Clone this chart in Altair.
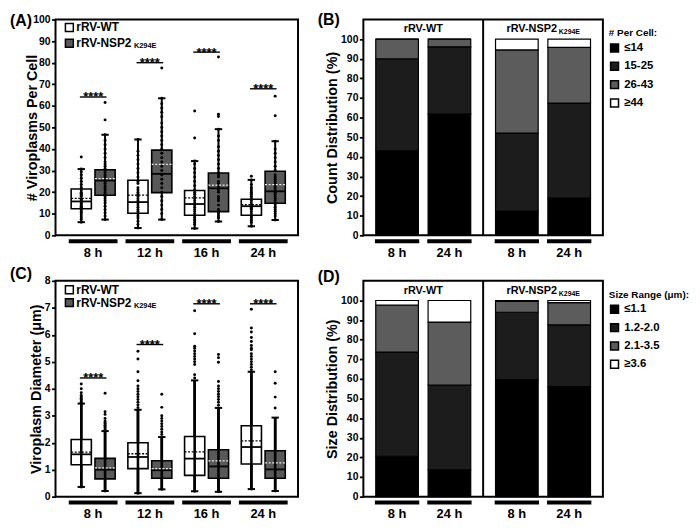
import altair as alt
import pandas as pd

FONT = "Liberation Sans"
GRAY = "#595959"

times = ["8 h", "12 h", "16 h", "24 h"]
viruses = ["rRV-WT", "rRV-NSP2 K294E"]
times2 = ["8 h", "24 h"]

# ---------------- Panel A : # viroplasms per cell ----------------
a_wt_lo = [6.1, 3.4, 3.2, 4.2]
a_wt_q1 = [12.3, 10.2, 9.3, 9.3]
a_wt_med = [15.7, 15.4, 14.5, 13.5]
a_wt_q3 = [21.5, 25.5, 20.8, 16.7]
a_wt_hi = [30.7, 44.4, 34.4, 25.7]
a_wt_mean = [17.1, 18.6, 17.4, 14.2]
a_mu_lo = [7.3, 7.3, 6.4, 7.1]
a_mu_q1 = [18.6, 19.8, 11.0, 14.9]
a_mu_med = [25.4, 28.5, 21.8, 20.4]
a_mu_q3 = [30.4, 39.5, 28.9, 29.7]
a_mu_hi = [46.6, 63.5, 49.2, 43.6]
a_mu_mean = [26.3, 32.9, 23.3, 23.5]
a_sig = [64.1, 80.0, 84.9, 67.9]

a_pts_wt_8 = [6.1, 7.5, 8.5, 9.5, 10.5, 11, 12, 12.5, 13, 13.5, 14, 14.5, 15, 15.5, 16, 16.5, 17, 18, 18.5, 19, 19.5, 20, 21, 22, 23.5, 25, 26.5, 28, 29.5, 30.7, 36.3]
a_pts_mu_8 = [7.3, 9, 10.5, 12, 13.5, 15, 16, 17, 18, 19, 20, 21, 22, 23, 24, 25, 26, 27, 28, 29, 30, 31, 32, 33, 34, 36, 38, 40, 42, 44, 46.6, 53.5, 61.6]
a_pts_wt_12 = [3.4, 5, 6.5, 8, 9, 10, 11, 12, 13, 14, 15, 16, 17, 18, 19, 20, 21, 22, 24, 25, 27, 29, 31, 33, 35, 37, 39, 44.4]
a_pts_mu_12 = [7.3, 10, 12, 14, 16, 18, 20, 22, 24, 26, 28, 30, 32, 34, 36, 38, 40, 42, 44, 46, 48, 50, 52, 55, 57, 59, 61, 63.5, 77.5]
a_pts_wt_16 = [3.2, 5, 6, 7, 8, 9, 10, 11, 12, 13, 14, 15, 16, 17, 18, 19, 20, 21, 23, 25, 27, 29, 31, 33, 34.4, 45.1, 57.6]
a_pts_mu_16 = [6.4, 8, 9, 10, 11, 12, 14, 16, 17, 18, 20, 21, 22, 23, 24, 25, 27, 28, 29, 31, 33, 35, 37, 39, 41, 44, 46, 49.2, 55.1, 56.1, 82.6]
a_pts_wt_24 = [4.2, 6, 7, 8, 9, 10, 11, 12, 12.5, 13, 13.5, 14, 15, 16, 17, 18, 19, 20, 21, 22, 23.5, 25.7, 27.4]
a_pts_mu_24 = [7.1, 9, 10, 11, 12, 13, 14, 15, 16, 17, 18, 19, 20, 21, 22, 23, 24, 25, 26, 27, 28, 30, 32, 34, 36, 38, 40, 43.6, 55.4, 64.5]

# ---------------- Panel C : viroplasm diameter ----------------
c_wt_lo = [0.36, 0.13, 0.2, 0.28]
c_wt_q1 = [1.18, 1.04, 0.79, 1.21]
c_wt_med = [1.57, 1.47, 1.41, 1.84]
c_wt_q3 = [2.12, 2.0, 2.23, 2.63]
c_wt_hi = [3.45, 3.22, 4.31, 4.63]
c_wt_mean = [1.65, 1.59, 1.66, 2.07]
c_mu_lo = [0.21, 0.27, 0.18, 0.21]
c_mu_q1 = [0.66, 0.68, 0.68, 0.68]
c_mu_med = [1.0, 0.98, 1.12, 1.01]
c_mu_q3 = [1.42, 1.33, 1.74, 1.7]
c_mu_hi = [2.43, 2.21, 3.29, 2.93]
c_mu_mean = [1.07, 1.04, 1.33, 1.25]
c_sig = [4.4, 5.64, 7.15, 7.15]

c_pts_wt_8 = [0.36, 3.5, 3.55, 3.6, 3.65, 3.7, 3.75, 3.85, 4.0, 4.18]
c_pts_mu_8 = [0.21, 2.5, 2.55, 2.6, 2.65, 2.7, 2.75, 2.8, 2.9, 3.05, 3.15, 3.83]
c_pts_wt_12 = [0.13, 3.3, 3.4, 3.5, 3.6, 3.7, 3.8, 3.9, 4.0, 4.1, 4.3, 4.63, 5.1, 5.39]
c_pts_mu_12 = [0.27, 2.3, 2.4, 2.5, 2.6, 2.7, 2.8, 2.9, 3.0, 3.31, 3.8]
c_pts_wt_16 = [0.2, 4.4, 4.52, 4.9, 5.0, 5.1, 5.2, 5.3, 5.4, 5.5, 5.58, 6.04, 6.89]
c_pts_mu_16 = [0.18, 3.39, 3.5, 3.6, 3.7, 3.8, 3.9, 4.0, 4.1, 4.27, 4.98, 5.15, 5.27]
c_pts_wt_24 = [0.28, 4.7, 4.8, 4.9, 5.0, 5.1, 5.2, 5.3, 5.45, 5.5, 5.6, 5.75, 5.9, 6.1, 6.25, 6.95]
c_pts_mu_24 = [0.21, 3.29, 3.69, 4.2, 4.63]

# ---------------- Panel B : count distribution (%) ----------------
# order: WT 8 h, WT 24 h, K294E 8 h, K294E 24 h
b_bins = ["≤14", "15-25", "26-43", "≥44"]
b_le14 = [43.1, 61.8, 12.3, 19.0]
b_15_25 = [46.9, 34.3, 39.8, 48.4]
b_26_43 = [10.0, 3.9, 42.4, 28.4]
b_ge44 = [0.0, 0.0, 5.5, 4.2]

# ---------------- Panel D : size distribution (%) ----------------
d_bins = ["≤1.1", "1.2-2.0", "2.1-3.5", "≥3.6"]
d_le11 = [20.6, 13.7, 59.7, 56.1]
d_12_20 = [53.1, 43.2, 34.3, 31.5]
d_21_35 = [23.9, 32.1, 5.5, 11.3]
d_ge36 = [2.4, 11.0, 0.5, 1.1]

bar_colors = ["#000000", "#1c1c1c", "#5c5c5c", "#ffffff"]

# ---------------- layout constants (in category units) ----------------
WA = 245
WB = 242
H = 218
A_DOMAIN = [-0.664, 3.613]      # group i is centred on i
A_OFF = 0.21                    # half distance between the two boxes of a group
A_HALF = 0.178                  # half box width
A_CAP = 0.065                   # half cap width
A_SIG = 0.235                   # half significance-line width
A_UNDER = 0.43                  # half underline width
B_OFF = 0.2185                  # bar offset inside one virus band (band = 1)
B_HALF = 0.178
B_UNDER = 0.185

one = pd.DataFrame({"k": [0]})


def stats_frame(wt, mu):
    rows = []
    for i, t in enumerate(times):
        for sgn, v, s in ((-1, viruses[0], wt), (1, viruses[1], mu)):
            xc = i + sgn * A_OFF
            rows.append({"time": t, "virus": v, "xc": xc, "xl": xc - A_HALF, "xr": xc + A_HALF,
                         "cl": xc - A_CAP, "cr": xc + A_CAP,
                         "lo": s[0][i], "q1": s[1][i], "med": s[2][i],
                         "q3": s[3][i], "hi": s[4][i], "mean": s[5][i]})
    return pd.DataFrame(rows)


def pts_frame(groups):
    rows = []
    for (t, v), vals in groups.items():
        xc = times.index(t) + (-A_OFF if v == viruses[0] else A_OFF)
        for x in vals:
            rows.append({"time": t, "virus": v, "xc": xc, "v": x})
    return pd.DataFrame(rows)


def box_panel(st, pts, sigvals, ymax, yticks, ytitle, titlex, letter, letter_y, leg_y, rule_over):
    xs = alt.Scale(domain=A_DOMAIN, nice=False, zero=False)

    def X(f):
        return alt.X(f, type="quantitative", scale=xs, axis=None)

    ysc = alt.Scale(domain=[0, ymax], nice=False)
    yax = alt.Axis(values=yticks, title=ytitle, titleX=titlex, titleY=H / 2, titleAngle=270,
                   titleBaseline="alphabetic", titleAlign="center")

    def Y(f):
        return alt.Y(f, type="quantitative", scale=ysc, axis=yax)

    fill = alt.Fill("virus:N", scale=alt.Scale(domain=viruses, range=["#ffffff", GRAY]), legend=None)
    base = alt.Chart(st)
    whisk = base.mark_rule(color="black", strokeWidth=2.6 if rule_over else 2).encode(
        x=X("xc"), y=Y("lo"), y2="hi")
    cap_lo = base.mark_rule(color="black", strokeWidth=2).encode(x=X("cl"), x2="cr", y=Y("lo"))
    cap_hi = base.mark_rule(color="black", strokeWidth=2).encode(x=X("cl"), x2="cr", y=Y("hi"))
    box = base.mark_rect(stroke="black", strokeWidth=1.6).encode(
        x=X("xl"), x2="xr", y=Y("q1"), y2="q3", fill=fill)
    dots = alt.Chart(pts).mark_circle(size=9, color="black", opacity=1).encode(x=X("xc"), y=Y("v"))
    med = base.mark_rule(color="black", strokeWidth=1.8).encode(x=X("xl"), x2="xr", y=Y("med"))
    mean = base.mark_rule(strokeWidth=1.3, strokeDash=[2, 1.6]).encode(
        x=X("xl"), x2="xr", y=Y("mean"),
        stroke=alt.Stroke("virus:N", scale=alt.Scale(domain=viruses, range=["#000000", "#e8e8e8"]), legend=None))
    sig = pd.DataFrame({"time": times, "sig": sigvals,
                        "xc": [float(i) for i in range(4)],
                        "sl": [i - A_SIG for i in range(4)], "sr": [i + A_SIG for i in range(4)],
                        "ul": [i - A_UNDER for i in range(4)], "ur": [i + A_UNDER for i in range(4)]})
    sbase = alt.Chart(sig)
    sline = sbase.mark_rule(color="black", strokeWidth=1.4).encode(x=X("sl"), x2="sr", y=Y("sig"))
    stars = sbase.mark_text(text="****", fontSize=13, baseline="alphabetic", dy=4.5).encode(
        x=X("xc"), y=Y("sig"))
    under = sbase.mark_rule(color="black", strokeWidth=4).encode(x=X("ul"), x2="ur", y=alt.value(H + 6))
    glab = sbase.mark_text(fontSize=13, baseline="middle").encode(
        x=X("xc"), y=alt.value(H + 18), text="time:N")
    lab = alt.Chart(one).mark_text(text=letter, fontSize=16, align="left", baseline="middle").encode(
        x=alt.value(-46), y=alt.value(letter_y))
    sq1 = alt.Chart(one).mark_square(size=64, fill="#ffffff", stroke="black", strokeWidth=1.5, opacity=1).encode(
        x=alt.value(14), y=alt.value(leg_y[0]))
    sq2 = alt.Chart(one).mark_square(size=64, fill=GRAY, stroke="black", strokeWidth=1.5, opacity=1).encode(
        x=alt.value(14), y=alt.value(leg_y[1]))
    t1 = alt.Chart(one).mark_text(text="rRV-WT", fontSize=12, align="left", baseline="middle").encode(
        x=alt.value(21), y=alt.value(leg_y[0]))
    t2 = alt.Chart(one).mark_text(text="rRV-NSP2", fontSize=12, align="left", baseline="middle").encode(
        x=alt.value(21), y=alt.value(leg_y[1]))
    t3 = alt.Chart(one).mark_text(text="K294E", fontSize=7.5, align="left", baseline="middle").encode(
        x=alt.value(21 + 4.723 * 12 + 1.5), y=alt.value(leg_y[1] + 3))
    layers = [whisk, box]
    if rule_over:
        layers.append(whisk)
    layers += [dots, cap_lo, cap_hi, med, mean, sline, stars, under, glab, lab, sq1, sq2, t1, t2, t3]
    return alt.layer(*layers).properties(width=WA, height=H)


def bar_frame(bins, cols):
    keys = [(0, 0), (0, 1), (1, 0), (1, 1)]
    rows = []
    for j, (g, ti) in enumerate(keys):
        xc = g + 0.5 + (ti - 0.5) * 2 * B_OFF
        acc = 0.0
        for k, b in enumerate(bins):
            val = cols[k][j]
            rows.append({"virus": viruses[g], "time": times2[ti], "bin": b, "k": k, "pct": val,
                         "y0": acc, "y1": acc + val, "xc": xc, "xl": xc - B_HALF, "xr": xc + B_HALF,
                         "ul": xc - B_UNDER, "ur": xc + B_UNDER})
            acc += val
    return pd.DataFrame(rows)


def bar_panel(df, bins, ytitle, letter, letter_y, leg_title):
    xs = alt.Scale(domain=[0, 2], nice=False, zero=False)

    def X(f):
        return alt.X(f, type="quantitative", scale=xs, axis=None)

    ysc = alt.Scale(domain=[0, 110], nice=False)
    yax = alt.Axis(values=list(range(0, 101, 10)), title=ytitle, titleX=-27, titleY=H / 2, titleAngle=270,
                   titleBaseline="alphabetic", titleAlign="center")
    bars = alt.Chart(df).mark_rect(stroke="black", strokeWidth=1.2).encode(
        x=X("xl"), x2="xr",
        y=alt.Y("y0:Q", scale=ysc, axis=yax), y2="y1",
        fill=alt.Fill("bin:N", scale=alt.Scale(domain=bins, range=bar_colors),
                      legend=alt.Legend(title=leg_title, orient="none", legendX=WB + 6, legendY=9)))
    cats = df[["virus", "time", "xc", "ul", "ur"]].drop_duplicates()
    under = alt.Chart(cats).mark_rule(color="black", strokeWidth=4).encode(
        x=X("ul"), x2="ur", y=alt.value(H + 6))
    tlab = alt.Chart(cats).mark_text(fontSize=13, baseline="middle").encode(
        x=X("xc"), y=alt.value(H + 18), text="time:N")
    hdr = pd.DataFrame({"virus": viruses, "xc": [0.5, 1.5], "xd": [1.0, 1.0]})
    div = alt.Chart(hdr.iloc[:1]).mark_rule(color="black", strokeWidth=2).encode(
        x=X("xd"), y=alt.value(0), y2=alt.value(H))
    h1 = alt.Chart(hdr.iloc[:1]).mark_text(text="rRV-WT", fontSize=11, baseline="middle").encode(
        x=X("xc"), y=alt.value(10))
    h2 = alt.Chart(hdr.iloc[1:]).mark_text(text="rRV-NSP2", fontSize=11, baseline="middle", align="left",
                                           dx=-37).encode(x=X("xc"), y=alt.value(10))
    h3 = alt.Chart(hdr.iloc[1:]).mark_text(text="K294E", fontSize=7, baseline="middle", align="left",
                                           dx=-37 + 4.723 * 11 + 1).encode(x=X("xc"), y=alt.value(13))
    lab = alt.Chart(one).mark_text(text=letter, fontSize=16, align="left", baseline="middle").encode(
        x=alt.value(-46), y=alt.value(letter_y))
    return alt.layer(bars, under, tlab, div, h1, h2, h3, lab).properties(width=WB, height=H)


stA = stats_frame((a_wt_lo, a_wt_q1, a_wt_med, a_wt_q3, a_wt_hi, a_wt_mean),
                  (a_mu_lo, a_mu_q1, a_mu_med, a_mu_q3, a_mu_hi, a_mu_mean))
ptsA = pts_frame({("8 h", viruses[0]): a_pts_wt_8, ("8 h", viruses[1]): a_pts_mu_8,
                  ("12 h", viruses[0]): a_pts_wt_12, ("12 h", viruses[1]): a_pts_mu_12,
                  ("16 h", viruses[0]): a_pts_wt_16, ("16 h", viruses[1]): a_pts_mu_16,
                  ("24 h", viruses[0]): a_pts_wt_24, ("24 h", viruses[1]): a_pts_mu_24})

stC = stats_frame((c_wt_lo, c_wt_q1, c_wt_med, c_wt_q3, c_wt_hi, c_wt_mean),
                  (c_mu_lo, c_mu_q1, c_mu_med, c_mu_q3, c_mu_hi, c_mu_mean))
ptsC = pts_frame({("8 h", viruses[0]): c_pts_wt_8, ("8 h", viruses[1]): c_pts_mu_8,
                  ("12 h", viruses[0]): c_pts_wt_12, ("12 h", viruses[1]): c_pts_mu_12,
                  ("16 h", viruses[0]): c_pts_wt_16, ("16 h", viruses[1]): c_pts_mu_16,
                  ("24 h", viruses[0]): c_pts_wt_24, ("24 h", viruses[1]): c_pts_mu_24})

panelA = box_panel(stA, ptsA, a_sig, 100, list(range(0, 101, 10)), "# Viroplasms Per Cell", -19,
                   "(A)", 2, (8, 24), False)
panelC = box_panel(stC, ptsC, c_sig, 8, list(range(0, 9)), "Viroplasm Diameter (μm)", -15,
                   "(C)", -7, (9, 22), True)
panelB = bar_panel(bar_frame(b_bins, [b_le14, b_15_25, b_26_43, b_ge44]), b_bins,
                   "Count Distribution (%)", "(B)", 1, "# Per Cell:")
panelD = bar_panel(bar_frame(d_bins, [d_le11, d_12_20, d_21_35, d_ge36]), d_bins,
                   "Size Distribution (%)", "(D)", -4, "Size Range (μm):")

chart = alt.concat(panelA, panelB, panelC, panelD, columns=2,
                   spacing={"row": 46, "column": 66}, bounds="flush").resolve_scale(
    fill="independent", stroke="independent").resolve_legend(fill="independent").properties(
    padding={"left": 1, "right": 1, "top": 1, "bottom": 1}
).configure(font=FONT).configure_view(stroke="black", strokeWidth=2).configure_axis(
    labelFont=FONT, labelFontWeight="bold", labelFontSize=10.5, labelColor="black",
    tickColor="black", tickWidth=1.8, tickSize=4, domain=False, grid=False, labelPadding=1.5,
    titleFont=FONT, titleFontWeight="bold", titleFontSize=14.5, titleColor="black"
).configure_legend(
    titleFont=FONT, titleFontSize=10, titleFontWeight="bold", titleColor="black",
    labelFont=FONT, labelFontSize=11.5, labelFontWeight="bold", labelColor="black",
    symbolType="square", symbolSize=64, symbolStrokeColor="black", symbolStrokeWidth=1.5,
    rowPadding=3.5, titlePadding=4, labelOffset=4, padding=0
).configure_text(font=FONT, fontWeight="bold", color="black")

chart.save("out.html", embed_options={"renderer": "svg", "actions": False})
